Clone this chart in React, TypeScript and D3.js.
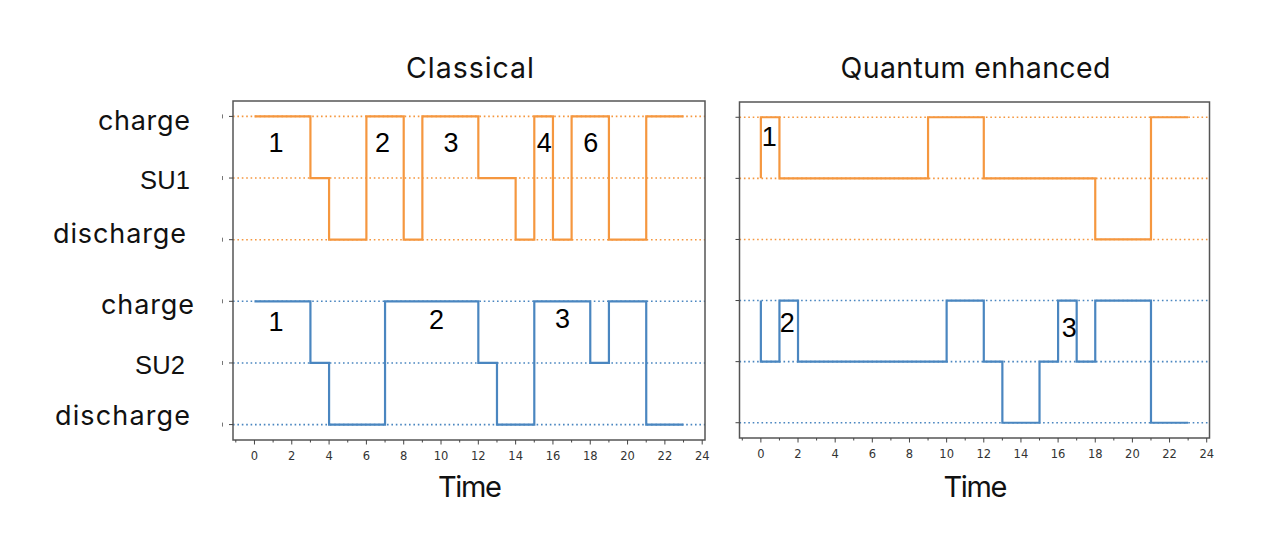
import React from "react";
import * as d3 from "d3";

// ---- data (level: 1 = charge, 0 = idle, -1 = discharge), hourly, matplotlib step 'pre'
const hours = d3.range(24);
const classicalSU1 = [1,1,1,1,0,-1,-1,1,1,-1,1,1,1,0,0,-1,1,-1,1,1,-1,-1,1,1];
const classicalSU2 = [1,1,1,1,0,-1,-1,-1,1,1,1,1,1,0,-1,-1,1,1,1,0,1,1,-1,-1];
const quantumSU1 = [0,1,0,0,0,0,0,0,0,0,1,1,1,0,0,0,0,0,0,-1,-1,-1,1,1];
const quantumSU2 = [1,0,1,0,0,0,0,0,0,0,0,1,1,0,-1,-1,0,1,0,1,1,1,-1,-1];

const xTicks = d3.range(0, 25, 2);
const xMinor = d3.range(-1, 25, 1);
const levelValues = [0, 1, 2, 3, 4, 5];

// annotations in data coordinates (hour, level)
const classicalNotes = [
  { t: "1", h: 1.16, v: 4.57 },
  { t: "2", h: 6.87, v: 4.57 },
  { t: "3", h: 10.54, v: 4.57 },
  { t: "4", h: 15.53, v: 4.57 },
  { t: "6", h: 18.03, v: 4.57 },
  { t: "1", h: 1.16, v: 1.67 },
  { t: "2", h: 9.76, v: 1.7 },
  { t: "3", h: 16.51, v: 1.71 },
];
const quantumNotes = [
  { t: "1", h: 0.45, v: 4.68 },
  { t: "2", h: 1.42, v: 1.63 },
  { t: "3", h: 16.6, v: 1.55 },
];

const sideLabels = [
  { t: "charge", x: 190, y: 120, w: 92, f: "Inter" },
  { t: "SU1", x: 190, y: 180, w: 50, f: "Liberation Sans" },
  { t: "discharge", x: 186, y: 233, w: 133, f: "Inter" },
  { t: "charge", x: 194, y: 304, w: 93, f: "Inter" },
  { t: "SU2", x: 185, y: 365, w: 50, f: "Liberation Sans" },
  { t: "discharge", x: 190, y: 415, w: 135, f: "Inter" },
];

const ORANGE = "#f5973f";
const BLUE = "#4a86c0";

type Note = { t: string; h: number; v: number };

function Panel(props: {
  x0: number; x1: number; y0: number; y1: number;
  su1: number[]; su2: number[]; notes: Note[];
  title: string; titleW: number; remnant: boolean;
}) {
  const { x0, x1, y0, y1, su1, su2, notes, title, titleW, remnant } = props;
  const x = d3.scaleLinear().domain([-1.15, 24.15]).range([x0, x1]);
  const y = d3.scaleLinear().domain([-0.25, 5.25]).range([y1, y0]);
  const line = d3
    .line<number>()
    .x((_, i) => x(hours[i]))
    .y((d) => y(d))
    .curve(d3.curveStepBefore);
  const cx = (x0 + x1) / 2;
  return (
    <g>
      {levelValues.map((lv) => (
        <line
          key={"g" + lv}
          x1={x0}
          x2={x1}
          y1={y(lv)}
          y2={y(lv)}
          stroke={lv >= 3 ? ORANGE : BLUE}
          strokeWidth={1.6}
          strokeDasharray="1.6 2.8"
        />
      ))}
      <path d={line(su1.map((v) => 4 + v)) || ""} fill="none" stroke={ORANGE} strokeWidth={2.2} />
      <path d={line(su2.map((v) => 1 + v)) || ""} fill="none" stroke={BLUE} strokeWidth={2.2} />
      <rect x={x0} y={y0} width={x1 - x0} height={y1 - y0} fill="none" stroke="#555" strokeWidth={1.5} />
      {levelValues.map((lv) => (
        <g key={"yt" + lv}>
          <line x1={x0 - 4} x2={x0} y1={y(lv)} y2={y(lv)} stroke="#444" strokeWidth={1} />
          {remnant && (
            <line x1={x0 - 10.5} x2={x0 - 10.5} y1={y(lv) - 2} y2={y(lv) + 2} stroke="#777" strokeWidth={1} />
          )}
        </g>
      ))}
      {xMinor.map((t) => (
        <line
          key={"xm" + t}
          x1={x(t)}
          x2={x(t)}
          y1={y1}
          y2={y1 + (t % 2 === 0 ? 4.5 : 2.5)}
          stroke="#444"
          strokeWidth={1}
        />
      ))}
      {xTicks.map((t) => (
        <text
          key={"xl" + t}
          x={x(t)}
          y={y1 + 16}
          dominantBaseline="central"
          textAnchor="middle"
          fontFamily="DejaVu Sans"
          fontSize={11.5}
          fill="#333"
        >
          {t}
        </text>
      ))}
      {notes.map((n, i) => (
        <text
          key={"n" + i}
          x={x(n.h)}
          y={y(n.v)}
          textAnchor="middle"
          dominantBaseline="central"
          fontFamily="Liberation Sans"
          fontSize={27}
          fill="#000"
        >
          {n.t}
        </text>
      ))}
      <text
        x={cx + 1}
        y={78}
        textAnchor="middle"
        fontFamily="Inter"
        fontSize={28.5}
        textLength={titleW}
        fill="#111"
      >
        {title}
      </text>
      <text
        x={cx + 1}
        y={497}
        textAnchor="middle"
        fontFamily="Inter"
        fontSize={29}
        textLength={64}
        fill="#111"
      >
        Time
      </text>
    </g>
  );
}

export default function App() {
  return (
    <svg
      width={1286}
      height={554}
      style={{ position: "absolute", left: 0, top: 0, background: "#fff" }}
    >
      <rect x={0} y={0} width={1286} height={554} fill="#fff" />
      <Panel
        x0={233}
        x1={705}
        y0={101}
        y1={440}
        su1={classicalSU1}
        su2={classicalSU2}
        notes={classicalNotes}
        title="Classical"
        titleW={128}
        remnant={true}
      />
      <Panel
        x0={739.5}
        x1={1209.5}
        y0={102}
        y1={438}
        su1={quantumSU1}
        su2={quantumSU2}
        notes={quantumNotes}
        title="Quantum enhanced"
        titleW={270}
        remnant={false}
      />
      {sideLabels.map((l, i) => (
        <text
          key={"s" + i}
          x={l.x}
          y={l.y}
          textAnchor="end"
          dominantBaseline="central"
          fontFamily={l.f}
          fontSize={l.f === "Inter" ? 27 : 25.5}
          textLength={l.w}
          fill="#111"
        >
          {l.t}
        </text>
      ))}
    </svg>
  );
}
